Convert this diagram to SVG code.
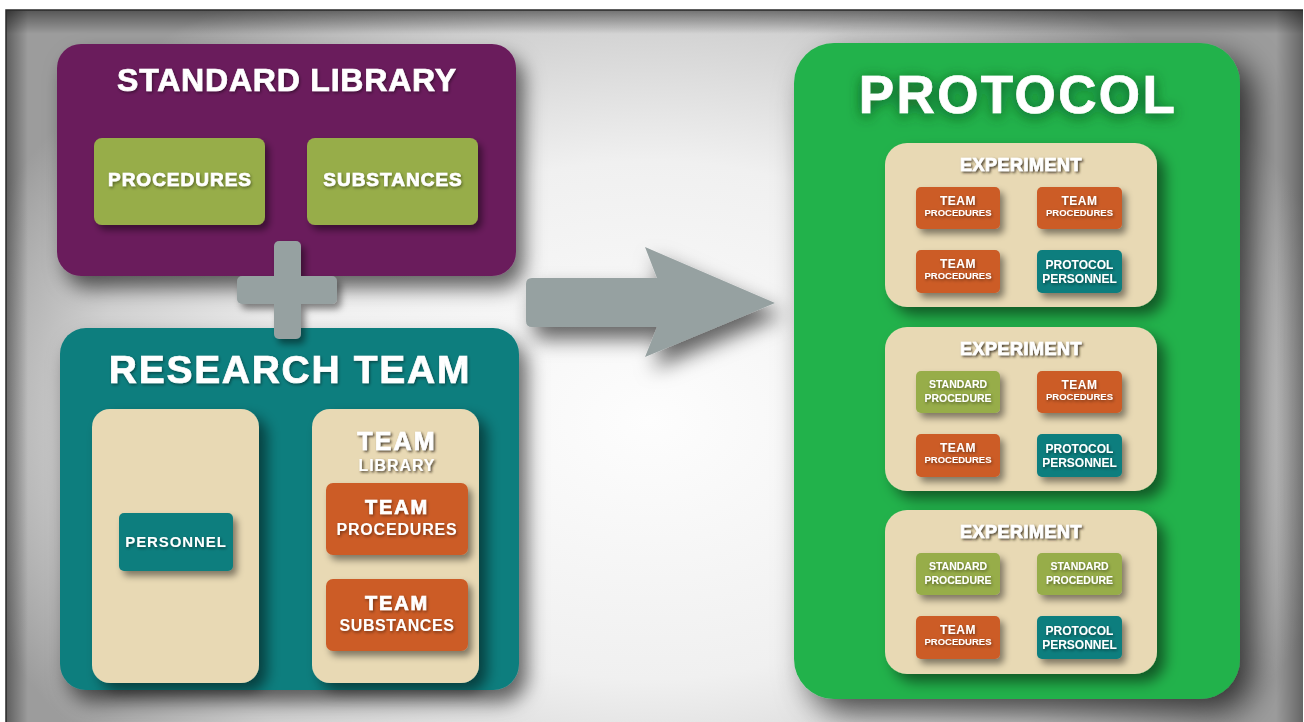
<svg xmlns="http://www.w3.org/2000/svg" width="1304" height="722" viewBox="0 0 1304 722">
  <defs>
    <radialGradient id="bgGrad" gradientUnits="userSpaceOnUse" cx="650" cy="420" r="720" gradientTransform="translate(650 420) scale(1 0.72) translate(-650 -420)">
      <stop offset="0" stop-color="#fdfdfd"/>
      <stop offset="0.5" stop-color="#f0f0f0"/>
      <stop offset="0.78" stop-color="#d0d0d0"/>
      <stop offset="1" stop-color="#9c9c9c"/>
    </radialGradient>
    <linearGradient id="edgeTop" x1="0" y1="0" x2="0" y2="1">
      <stop offset="0" stop-color="#000" stop-opacity="0.45"/>
      <stop offset="1" stop-color="#000" stop-opacity="0"/>
    </linearGradient>
    <linearGradient id="edgeLeft" x1="0" y1="0" x2="1" y2="0">
      <stop offset="0" stop-color="#000" stop-opacity="0.4"/>
      <stop offset="1" stop-color="#000" stop-opacity="0"/>
    </linearGradient>
    <linearGradient id="edgeRight" x1="1" y1="0" x2="0" y2="0">
      <stop offset="0" stop-color="#000" stop-opacity="0.35"/>
      <stop offset="1" stop-color="#000" stop-opacity="0"/>
    </linearGradient>
    <filter id="shPanel" x="-20%" y="-20%" width="150%" height="150%">
      <feDropShadow dx="8" dy="12" stdDeviation="10" flood-color="#000" flood-opacity="0.6"/>
    </filter>
    <filter id="shProtocol" x="-20%" y="-20%" width="150%" height="150%">
      <feDropShadow dx="14" dy="14" stdDeviation="16" flood-color="#000" flood-opacity="0.7"/>
    </filter>
    <filter id="shInner" x="-20%" y="-20%" width="150%" height="150%">
      <feDropShadow dx="8" dy="8" stdDeviation="7" flood-color="#000" flood-opacity="0.5"/>
    </filter>
    <filter id="shBox" x="-20%" y="-20%" width="150%" height="150%">
      <feDropShadow dx="4" dy="5" stdDeviation="3.5" flood-color="#000" flood-opacity="0.45"/>
    </filter>
    <filter id="shText" x="-10%" y="-30%" width="120%" height="170%">
      <feDropShadow dx="1" dy="1.5" stdDeviation="1.5" flood-color="#000" flood-opacity="0.45"/>
    </filter>
    <filter id="shTextLight" x="-10%" y="-30%" width="120%" height="170%">
      <feDropShadow dx="1.5" dy="1.5" stdDeviation="1.3" flood-color="#2e2618" flood-opacity="0.85"/>
    </filter>
    <filter id="glowText" x="-15%" y="-40%" width="130%" height="180%">
      <feDropShadow dx="0" dy="3" stdDeviation="7" flood-color="#073d14" flood-opacity="0.8"/>
    </filter>
  </defs>
  <style>
    text { font-family: "Liberation Sans", Arial, sans-serif; font-weight: bold; fill: #ffffff; text-anchor: middle; }
    .heavy { stroke: #ffffff; stroke-width: 0.7; }
    .purple { fill: #6a1e5c; }
    .olive { fill: #97ad4a; }
    .teal { fill: #0e7e7e; }
    .beige { fill: #e8d9b4; }
    .orange { fill: #cc5b27; }
    .green { fill: #22b24c; }
    .grey { fill: #96a1a1; }
    .t-title { filter: url(#shText); }
    .t-box { filter: url(#shText); }
    .t-on-beige { filter: url(#shTextLight); }
  </style>

  <!-- backdrop -->
  <rect x="0" y="0" width="1304" height="722" fill="#ffffff"/>
  <rect x="6" y="10" width="1297" height="712" fill="url(#bgGrad)"/>
  <rect x="6" y="10" width="1297" height="24" fill="url(#edgeTop)"/>
  <rect x="6" y="10" width="22" height="712" fill="url(#edgeLeft)"/>
  <rect x="1276" y="10" width="27" height="712" fill="url(#edgeRight)"/>
  <path d="M6 722 V10 H1303" fill="none" stroke="#2a2a2a" stroke-width="1.5"/>

  <!-- standard library -->
  <g id="standard-library">
    <rect class="purple" x="57" y="44" width="459" height="232" rx="24" filter="url(#shPanel)"/>
    <text class="t-title heavy" x="287" y="91" font-size="32" letter-spacing="0.8">STANDARD LIBRARY</text>
    <g id="procedures">
      <rect class="olive" x="94" y="138" width="171" height="87" rx="8" filter="url(#shBox)"/>
      <text class="t-box heavy" x="180" y="186" font-size="19" letter-spacing="1" stroke-width="0.4">PROCEDURES</text>
    </g>
    <g id="substances">
      <rect class="olive" x="307" y="138" width="171" height="87" rx="8" filter="url(#shBox)"/>
      <text class="t-box heavy" x="393" y="186" font-size="19" letter-spacing="1" stroke-width="0.4">SUBSTANCES</text>
    </g>
  </g>

  <!-- research team -->
  <g id="research-team">
    <rect class="teal" x="60" y="328" width="459" height="362" rx="26" filter="url(#shPanel)"/>
    <text class="t-title heavy" x="290" y="383" font-size="39" letter-spacing="1.7" stroke-width="0.9">RESEARCH TEAM</text>
    <g id="personnel-panel">
      <rect class="beige" x="92" y="409" width="167" height="274" rx="18" filter="url(#shInner)"/>
      <g id="personnel">
        <rect class="teal" x="119" y="513" width="114" height="58" rx="5" filter="url(#shBox)"/>
        <text class="t-box" x="176" y="547" font-size="15" letter-spacing="0.9">PERSONNEL</text>
      </g>
    </g>
    <g id="team-library">
      <rect class="beige" x="312" y="409" width="167" height="274" rx="18" filter="url(#shInner)"/>
      <text class="t-on-beige heavy" x="397" y="450" font-size="25" letter-spacing="2.2" stroke-width="0.5">TEAM</text>
      <text class="t-on-beige" x="397" y="471" font-size="16" letter-spacing="0.9">LIBRARY</text>
      <g id="team-procedures">
        <rect class="orange" x="326" y="483" width="142" height="72" rx="7" filter="url(#shBox)"/>
        <text class="t-box heavy" x="397" y="514" font-size="20" letter-spacing="1.8" stroke-width="0.4">TEAM</text>
        <text class="t-box" x="397" y="535" font-size="16" letter-spacing="0.8">PROCEDURES</text>
      </g>
      <g id="team-substances">
        <rect class="orange" x="326" y="579" width="142" height="72" rx="7" filter="url(#shBox)"/>
        <text class="t-box heavy" x="397" y="610" font-size="20" letter-spacing="1.8" stroke-width="0.4">TEAM</text>
        <text class="t-box" x="397" y="631" font-size="16" letter-spacing="0.6">SUBSTANCES</text>
      </g>
    </g>
  </g>

  <!-- connectors: plus sign joining the two sources, arrow into the protocol -->
  <g id="connectors">
    <g id="plus" class="grey" filter="url(#shBox)">
      <rect x="274" y="241" width="27" height="98" rx="5"/>
      <rect x="237" y="276" width="100" height="28" rx="5"/>
    </g>
    <path id="arrow" class="grey" filter="url(#shPanel)" d="M532 278 H657 L645 247 L775 303 L645 357 L657 327 H532 Q526 327 526 321 V284 Q526 278 532 278 Z"/>
  </g>

  <!-- protocol -->
  <g id="protocol">
    <rect class="green" x="794" y="43" width="446" height="656" rx="40" filter="url(#shProtocol)"/>
    <text class="heavy" filter="url(#glowText)" x="1018" y="113" font-size="53" letter-spacing="2.4" stroke-width="1.1">PROTOCOL</text>

    <g id="experiment-1">
      <rect class="beige" x="885" y="143" width="272" height="164" rx="22" filter="url(#shInner)"/>
      <text class="t-on-beige heavy" x="1021" y="171" font-size="18" letter-spacing="0.5" stroke-width="0.4">EXPERIMENT</text>
      <rect class="orange" x="916" y="187" width="84" height="42" rx="5" filter="url(#shBox)"/>
      <text class="t-box" x="958" y="205" font-size="12" letter-spacing="0.5">TEAM</text>
      <text class="t-box" x="958" y="216" font-size="9.5">PROCEDURES</text>
      <rect class="orange" x="1037" y="187" width="85" height="42" rx="5" filter="url(#shBox)"/>
      <text class="t-box" x="1079.5" y="205" font-size="12" letter-spacing="0.5">TEAM</text>
      <text class="t-box" x="1079.5" y="216" font-size="9.5">PROCEDURES</text>
      <rect class="orange" x="916" y="250" width="84" height="43" rx="5" filter="url(#shBox)"/>
      <text class="t-box" x="958" y="268" font-size="12" letter-spacing="0.5">TEAM</text>
      <text class="t-box" x="958" y="279" font-size="9.5">PROCEDURES</text>
      <rect class="teal" x="1037" y="250" width="85" height="43" rx="5" filter="url(#shBox)"/>
      <text class="t-box" x="1079.5" y="269" font-size="12">PROTOCOL</text>
      <text class="t-box" x="1079.5" y="283" font-size="12">PERSONNEL</text>
    </g>

    <g id="experiment-2">
      <rect class="beige" x="885" y="327" width="272" height="164" rx="22" filter="url(#shInner)"/>
      <text class="t-on-beige heavy" x="1021" y="355" font-size="18" letter-spacing="0.5" stroke-width="0.4">EXPERIMENT</text>
      <rect class="olive" x="916" y="371" width="84" height="42" rx="5" filter="url(#shBox)"/>
      <text class="t-box" x="958" y="388" font-size="10.5">STANDARD</text>
      <text class="t-box" x="958" y="402" font-size="10.5">PROCEDURE</text>
      <rect class="orange" x="1037" y="371" width="85" height="42" rx="5" filter="url(#shBox)"/>
      <text class="t-box" x="1079.5" y="389" font-size="12" letter-spacing="0.5">TEAM</text>
      <text class="t-box" x="1079.5" y="400" font-size="9.5">PROCEDURES</text>
      <rect class="orange" x="916" y="434" width="84" height="43" rx="5" filter="url(#shBox)"/>
      <text class="t-box" x="958" y="452" font-size="12" letter-spacing="0.5">TEAM</text>
      <text class="t-box" x="958" y="463" font-size="9.5">PROCEDURES</text>
      <rect class="teal" x="1037" y="434" width="85" height="43" rx="5" filter="url(#shBox)"/>
      <text class="t-box" x="1079.5" y="453" font-size="12">PROTOCOL</text>
      <text class="t-box" x="1079.5" y="467" font-size="12">PERSONNEL</text>
    </g>

    <g id="experiment-3">
      <rect class="beige" x="885" y="510" width="272" height="164" rx="22" filter="url(#shInner)"/>
      <text class="t-on-beige heavy" x="1021" y="538" font-size="18" letter-spacing="0.5" stroke-width="0.4">EXPERIMENT</text>
      <rect class="olive" x="916" y="553" width="84" height="42" rx="5" filter="url(#shBox)"/>
      <text class="t-box" x="958" y="570" font-size="10.5">STANDARD</text>
      <text class="t-box" x="958" y="584" font-size="10.5">PROCEDURE</text>
      <rect class="olive" x="1037" y="553" width="85" height="42" rx="5" filter="url(#shBox)"/>
      <text class="t-box" x="1079.5" y="570" font-size="10.5">STANDARD</text>
      <text class="t-box" x="1079.5" y="584" font-size="10.5">PROCEDURE</text>
      <rect class="orange" x="916" y="616" width="84" height="43" rx="5" filter="url(#shBox)"/>
      <text class="t-box" x="958" y="634" font-size="12" letter-spacing="0.5">TEAM</text>
      <text class="t-box" x="958" y="645" font-size="9.5">PROCEDURES</text>
      <rect class="teal" x="1037" y="616" width="85" height="43" rx="5" filter="url(#shBox)"/>
      <text class="t-box" x="1079.5" y="635" font-size="12">PROTOCOL</text>
      <text class="t-box" x="1079.5" y="649" font-size="12">PERSONNEL</text>
    </g>
  </g>
</svg>
